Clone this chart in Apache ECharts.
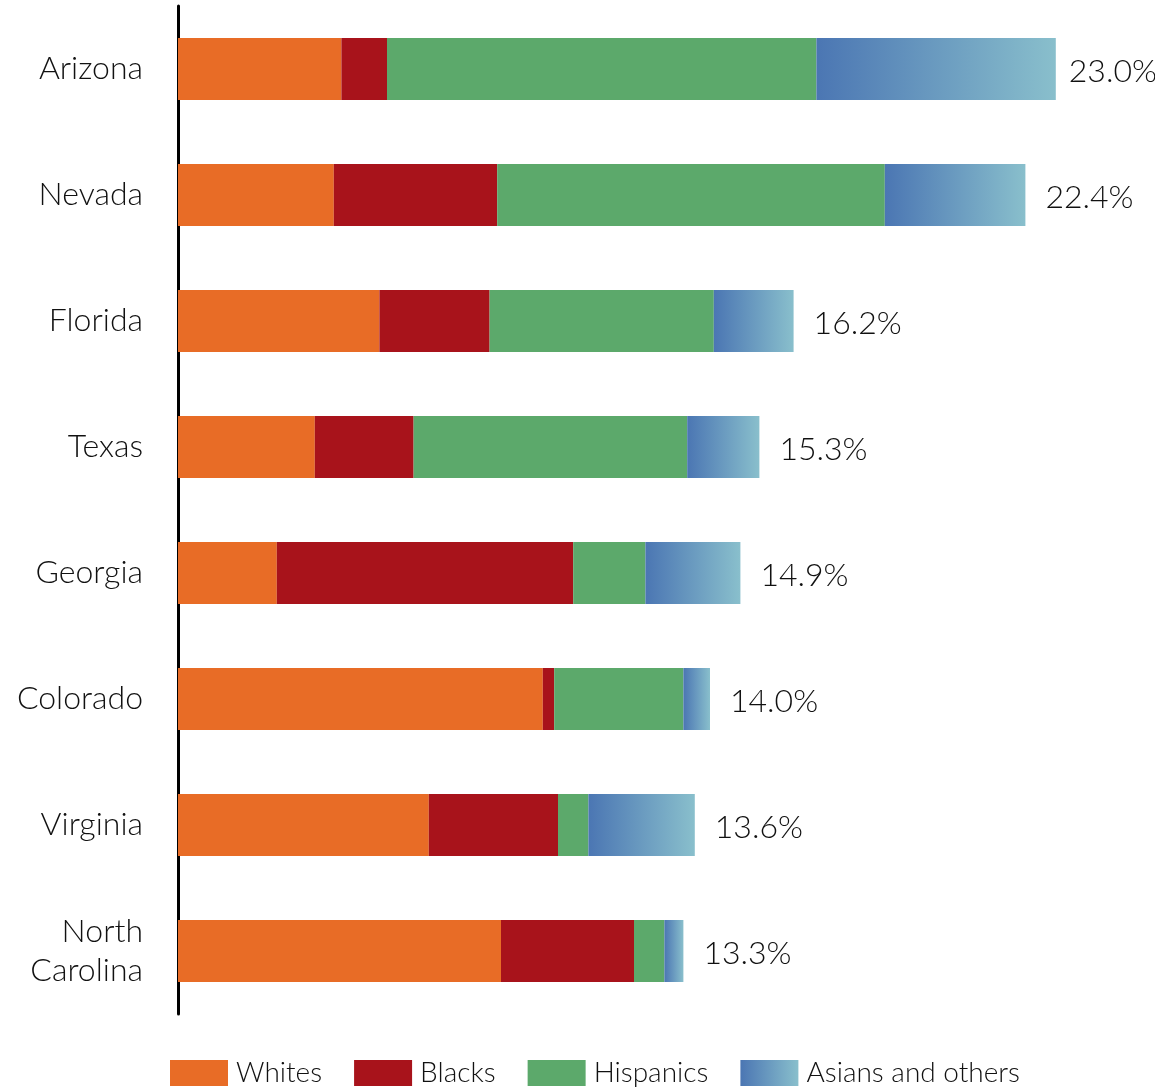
<!DOCTYPE html>
<html lang="en">
<head>
    <meta charset="utf-8">
    <title>Stacked bars by state</title>
    <script src="https://cdn.jsdelivr.net/npm/echarts@6/dist/echarts.min.js"></script>
    <style>
        html, body { margin: 0; padding: 0; background: #fff; }
        #chart { width: 1155px; height: 1089px; }
    </style>
</head>
<body>
<div id="chart"></div>
<script>
    // 数据
    var states = ['Arizona', 'Nevada', 'Florida', 'Texas', 'Georgia', 'Colorado', 'Virginia', 'North\nCarolina'];
    var whites = [4.3, 4.1, 5.3, 3.6, 2.6, 9.6, 6.6, 8.5];
    var blacks = [1.2, 4.3, 2.9, 2.6, 7.8, 0.3, 3.4, 3.5];
    var hispanics = [11.3, 10.2, 5.9, 7.2, 1.9, 3.4, 0.8, 0.8];
    var asians = [6.3, 3.7, 2.1, 1.9, 2.5, 0.7, 2.8, 0.5];
    var totals = ['23.0%', '22.4%', '16.2%', '15.3%', '14.9%', '14.0%', '13.6%', '13.3%'];

    var font = 'Lato, "Noto Sans", sans-serif';

    var blueGrad = new echarts.graphic.LinearGradient(0, 0, 1, 0, [
        {offset: 0, color: '#4b76b3'},
        {offset: 1, color: '#89bfcc'}
    ]);

    function bar(name, data, color) {
        return {
            name: name,
            type: 'bar',
            stack: 'total',
            barWidth: 62,
            data: data,
            itemStyle: {color: color},
            emphasis: {disabled: true}
        };
    }

    var chart = echarts.init(document.getElementById('chart'));
    // 第一根柱子的标签贴得更近（原图被裁切）
    var asianItems = asians.map(function (v, i) {
        return i === 0 ? {value: v, label: {distance: 13}} : v;
    });
    var last = bar('Asians and others', asianItems, blueGrad);
    last.label = {
        show: true,
        position: 'right',
        distance: 20,
        offset: [0, 3],
        color: '#111',
        fontFamily: font,
        fontWeight: 300,
        fontSize: 32,
        formatter: function (p) { return totals[p.dataIndex]; }
    };

    chart.setOption({
        animation: false,
        grid: {left: 178, right: 65, top: 6, bottom: 75, containLabel: false},
        legend: {
            left: 165,
            top: 1054,
            itemWidth: 58,
            itemHeight: 26,
            itemGap: 32,
            icon: 'rect',
            textStyle: {fontFamily: font, fontWeight: 300, fontSize: 28, color: '#111', padding: [0, 0, 0, 3]},
            data: ['Whites', 'Blacks', 'Hispanics', 'Asians and others']
        },
        xAxis: {
            type: 'value',
            min: 0,
            max: 24,
            show: false
        },
        yAxis: {
            type: 'category',
            inverse: true,
            data: states,
            axisLine: {lineStyle: {color: '#000', width: 3}},
            axisTick: {show: false},
            axisLabel: {
                margin: 35,
                color: '#111',
                fontFamily: font,
                fontWeight: 300,
                fontSize: 32,
                lineHeight: 39,
                align: 'right'
            }
        },
        series: [
            bar('Whites', whites, '#e86c26'),
            bar('Blacks', blacks, '#a8131b'),
            bar('Hispanics', hispanics, '#5ca96b'),
            last
        ]
    });
</script>
</body>
</html>
